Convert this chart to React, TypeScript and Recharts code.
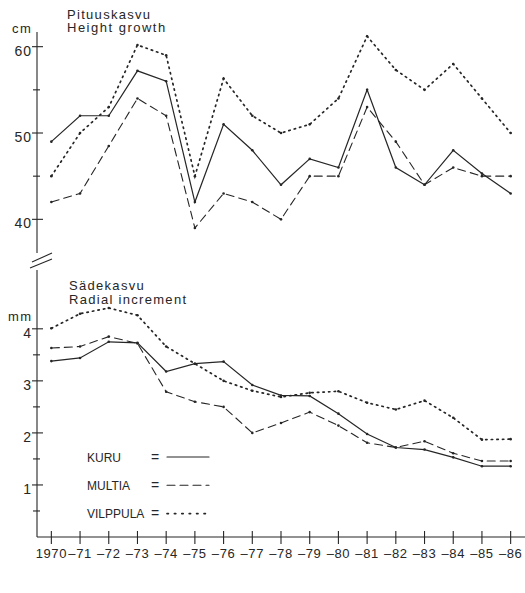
import React from 'react';
import { LineChart, Line, XAxis, YAxis } from 'recharts';

// years on the shared x axis
const years = [1970, 1971, 1972, 1973, 1974, 1975, 1976, 1977, 1978, 1979, 1980, 1981, 1982, 1983, 1984, 1985, 1986];
const yearLabels = ['1970', '–71', '–72', '–73', '–74', '–75', '–76', '–77', '–78', '–79', '–80', '–81', '–82', '–83', '–84', '–85', '–86'];

// Pituuskasvu / height growth, cm
const kuruHeight = [49, 52, 52, 57.2, 56, 42, 51, 48, 44, 47, 46, 55, 46, 44, 48, 45.3, 43];
const multiaHeight = [42, 43, 48.5, 54, 52, 39, 43, 42, 40, 45, 45, 53, 49, 44, 46, 45, 45];
const vilppulaHeight = [45, 50, 53, 60.2, 59, 45, 56.3, 52, 50, 51, 54, 61.2, 57.3, 55, 58, 54, 50];

// Sädekasvu / radial increment, mm
const kuruRadial = [3.38, 3.44, 3.75, 3.73, 3.18, 3.33, 3.37, 2.92, 2.72, 2.71, 2.37, 1.98, 1.72, 1.68, 1.53, 1.36, 1.36];
const multiaRadial = [3.63, 3.66, 3.85, 3.72, 2.79, 2.6, 2.5, 2.0, 2.19, 2.4, 2.14, 1.81, 1.72, 1.84, 1.61, 1.46, 1.46];
const vilppulaRadial = [4.01, 4.29, 4.4, 4.26, 3.66, 3.33, 3.0, 2.81, 2.69, 2.77, 2.8, 2.58, 2.45, 2.62, 2.29, 1.87, 1.88];

const heightTicks = [40, 45, 50, 55, 60];
const heightMajor = [40, 50, 60];
const radialTicks = [0.5, 1, 1.5, 2, 2.5, 3, 3.5, 4];
const radialMajor = [1, 2, 3, 4];

const sites = ['KURU', 'MULTIA', 'VILPPULA'];

const heightData = years.map((year, i) => ({
  year,
  KURU: kuruHeight[i],
  MULTIA: multiaHeight[i],
  VILPPULA: vilppulaHeight[i],
}));

const radialData = years.map((year, i) => ({
  year,
  KURU: kuruRadial[i],
  MULTIA: multiaRadial[i],
  VILPPULA: vilppulaRadial[i],
}));

const INK = '#262626';
const FONT = '"Liberation Sans", Arial, Helvetica, sans-serif';

const STYLES: Record<string, { dash?: string; width: number }> = {
  KURU: { width: 1.2 },
  MULTIA: { dash: '8 5', width: 1.1 },
  VILPPULA: { dash: '1.4 4.2', width: 1.7 },
};

const W = 525;
const H = 593;
const X_DOMAIN: [number, number] = [1969.5, 1986.5];

function makeYTick(major: number[]) {
  return (props: any) => {
    const { x, y, payload } = props;
    const isMajor = major.includes(payload.value);
    return (
      <g>
        <line x1={x - (isMajor ? 5 : 4)} x2={x + (isMajor ? 6 : 3)} y1={y} y2={y} stroke={INK} strokeWidth={1.1} />
        {isMajor && (
          <text x={x - 5} y={y} dy={9} textAnchor="end" fontSize={14} letterSpacing={1} fill={INK} fontFamily={FONT}>
            {payload.value}
          </text>
        )}
      </g>
    );
  };
}

function XTick(props: any) {
  const { x, y, payload } = props;
  const idx = years.indexOf(payload.value);
  return (
    <g>
      <line x1={x} x2={x} y1={y - 6} y2={y + 7} stroke={INK} strokeWidth={1.1} />
      <text x={x} y={y} dy={21} textAnchor="middle" fontSize={13} letterSpacing={0.6} fill={INK} fontFamily={FONT}>
        {yearLabels[idx]}
      </text>
    </g>
  );
}

function siteLines() {
  return sites.map((s) => (
    <Line
      key={s}
      type="linear"
      dataKey={s}
      stroke={INK}
      strokeWidth={STYLES[s].width}
      strokeDasharray={STYLES[s].dash}
      strokeLinecap="round"
      dot={{ r: 1.3, fill: INK, stroke: 'none' }}
      isAnimationActive={false}
    />
  ));
}

export default function App() {
  return (
    <div style={{ position: 'absolute', left: 0, top: 0, width: W, height: H, background: '#fff' }}>
      <div style={{ position: 'absolute', left: 0, top: 0 }}>
        <LineChart width={W} height={H} data={heightData} margin={{ top: 32, right: 0, left: 0, bottom: H - 253 }}>
          <XAxis dataKey="year" type="number" domain={X_DOMAIN} hide />
          <YAxis
            type="number"
            domain={[36.1, 61.7]}
            allowDataOverflow
            ticks={heightTicks}
            interval={0}
            width={37}
            tickSize={0}
            tickMargin={0}
            tickLine={false}
            axisLine={{ stroke: INK, strokeWidth: 1.1 }}
            tick={makeYTick(heightMajor)}
          />
          {siteLines()}
        </LineChart>
      </div>
      <div style={{ position: 'absolute', left: 0, top: 0 }}>
        <LineChart width={W} height={H} data={radialData} margin={{ top: 270, right: 0, left: 0, bottom: H - 565 }}>
          <XAxis
            dataKey="year"
            type="number"
            domain={X_DOMAIN}
            allowDataOverflow
            ticks={years}
            interval={0}
            height={28}
            tickSize={0}
            tickMargin={0}
            tickLine={false}
            axisLine={{ stroke: INK, strokeWidth: 1.1 }}
            tick={<XTick />}
          />
          <YAxis
            type="number"
            domain={[0, 5.13]}
            allowDataOverflow
            ticks={radialTicks}
            interval={0}
            width={37}
            tickSize={0}
            tickMargin={0}
            tickLine={false}
            axisLine={{ stroke: INK, strokeWidth: 1.1 }}
            tick={makeYTick(radialMajor)}
          />
          {siteLines()}
        </LineChart>
      </div>
      <svg width={W} height={H} style={{ position: 'absolute', left: 0, top: 0, pointerEvents: 'none' }} fontFamily={FONT} fill={INK}>
        <text x={67} y={18.5} fontSize={13} letterSpacing={1.3}>Pituuskasvu</text>
        <text x={67} y={32} fontSize={13} letterSpacing={1.5}>Height growth</text>
        <text x={12} y={32.5} fontSize={13} letterSpacing={1.5}>cm</text>
        <text x={69} y={289.5} fontSize={13} letterSpacing={1.3}>Sädekasvu</text>
        <text x={69} y={303.5} fontSize={13} letterSpacing={1.3}>Radial increment</text>
        <text x={8} y={320.5} fontSize={13} letterSpacing={1.5}>mm</text>
        {/* axis break marks */}
        <line x1={32} y1={262} x2={52} y2={253} stroke={INK} strokeWidth={1.1} />
        <line x1={30} y1={268} x2={52} y2={259} stroke={INK} strokeWidth={1.1} />
        {/* legend */}
        {sites.map((s, i) => {
          const y = 457 + i * 28.3;
          return (
            <g key={s}>
              <text x={87} y={y + 4.5} fontSize={12}>{s}</text>
              <text x={151} y={y + 4.5} fontSize={14}>=</text>
              <line
                x1={167}
                x2={209}
                y1={y}
                y2={y}
                stroke={INK}
                strokeWidth={STYLES[s].width}
                strokeDasharray={s === 'VILPPULA' ? '1.4 6' : STYLES[s].dash}
                strokeLinecap="round"
              />
            </g>
          );
        })}
      </svg>
    </div>
  );
}
